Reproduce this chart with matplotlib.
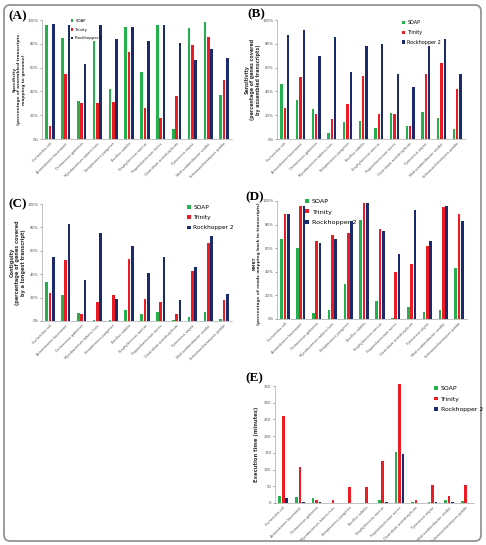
import matplotlib
matplotlib.use("Agg")
import matplotlib.pyplot as plt
import numpy as np
from matplotlib.patches import FancyBboxPatch

species = ["Escherichia coli", "Acinetobacter baumannii", "Deinococcus gobiensis",
           "Mycobacterium tuberculosis", "Streptococcus pyogenes", "Bacillus subtilis",
           "Staphylococcus aureus", "Propionibacterium acnes", "Clostridium acetobutylicum",
           "Pyrococcus abyssi", "Methanobrevibacter smithii", "Schizosaccharomyces pombe"]
methods = ["SOAP", "Trinity", "Rockhopper 2"]

spec_soap = [96, 85, 32, 82, 42, 94, 56, 96, 8, 93, 98, 37]
spec_trin = [11, 55, 30, 30, 31, 73, 26, 18, 36, 79, 86, 50]
spec_rock = [97, 96, 63, 96, 84, 94, 82, 96, 81, 66, 76, 68]

sens_soap = [46, 33, 25, 5, 14, 15, 9, 22, 11, 23, 18, 8]
sens_trin = [26, 52, 21, 17, 29, 53, 21, 21, 11, 55, 64, 42]
sens_rock = [87, 92, 70, 86, 56, 78, 80, 55, 44, 78, 84, 55]

cont_soap = [33, 22, 7, 1, 1, 9, 6, 8, 1, 3, 8, 2]
cont_trin = [24, 52, 6, 16, 22, 53, 19, 16, 6, 43, 67, 18]
cont_rock = [55, 83, 35, 75, 19, 64, 41, 55, 18, 46, 73, 23]

rmbt_soap = [68, 60, 5, 8, 30, 84, 15, 1, 10, 6, 8, 43]
rmbt_trin = [89, 96, 66, 71, 73, 98, 76, 40, 47, 62, 95, 89]
rmbt_rock = [89, 96, 64, 68, 83, 98, 75, 55, 92, 66, 96, 83]

time_soap = [22, 17, 16, 0, 0, 1, 8, 152, 2, 4, 10, 5]
time_trin = [260, 107, 10, 9, 48, 48, 125, 2369, 8, 55, 22, 55]
time_rock = [15, 4, 4, 0, 1, 1, 4, 146, 1, 4, 2, 1]

colors = ["#22B14C", "#ED1C24", "#1A2A6C"]

W, H = 486, 545
fig = plt.figure(figsize=(W / 100, H / 100), dpi=100)

def rect(l, t, r, b):
    return [l / W, 1 - b / H, (r - l) / W, (b - t) / H]

frame = FancyBboxPatch((4 / W, 4 / H), 477 / W, 536 / H,
                       boxstyle="round,pad=0,rounding_size=0.012",
                       transform=fig.transFigure, fill=False,
                       edgecolor="#8c8c8c", linewidth=1.2)
fig.patches.append(frame)

x = np.arange(len(species))

def panel(r, series, ylabel, ylfs, letter, letter_xy, ylim, yticks, pct, leg_xy, leg_fs,
          leg_space, yl_y=0.5):
    ax = fig.add_axes(rect(*r))
    offs = [-0.21, 0, 0.21]
    handles = []
    for vals, off, c, m in zip(series, offs, colors, methods):
        v = np.minimum(np.array(vals, dtype=float), ylim[1] * 1.02)
        h = ax.bar(x + off, v, width=0.16, color=c, label=m, clip_on=False)
        handles.append(h)
    ax.set_xlim(-0.5, 11.5)
    ax.set_ylim(*ylim)
    ax.set_yticks(yticks)
    if pct:
        ax.set_yticklabels([f"{t}%" for t in yticks])
    ax.set_xticks(x)
    ax.set_xticklabels(species, rotation=45, ha="right", rotation_mode="anchor",
                       fontsize=2.4, color="#555555")
    ax.tick_params(axis="y", labelsize=2.8, length=1.5, width=0.4, colors="#555555", pad=1)
    ax.tick_params(axis="x", length=0, pad=2)
    for s in ["top", "right"]:
        ax.spines[s].set_visible(False)
    for s in ["left", "bottom"]:
        ax.spines[s].set_color("#aaaaaa")
        ax.spines[s].set_linewidth(0.5)
    ax.set_ylabel(ylabel, fontsize=ylfs, fontweight="bold", color="#333333",
                  labelpad=3, linespacing=1.15)
    ax.yaxis.set_label_coords(-0.085 if ax.get_ylim()[1] <= 100 else -0.08, yl_y)
    fig.text(letter_xy[0] / W, 1 - letter_xy[1] / H, letter, fontsize=9.5,
             fontweight="bold", family="Liberation Serif", va="center", ha="left")
    fig.legend(handles, methods, loc="upper left",
               bbox_to_anchor=(leg_xy[0] / W, 1 - leg_xy[1] / H),
               fontsize=leg_fs, frameon=False, handlelength=0.6, handleheight=0.6,
               handletextpad=0.5, labelspacing=leg_space, borderpad=0,
               borderaxespad=0)
    return ax

pt = list(range(0, 101, 20))
panel((42, 20, 232, 139), [spec_soap, spec_trin, spec_rock],
      "Specificity\n(percentage of assembled transcripts\nmapping to genome)", 3.1,
      "(A)", (8, 16), (0, 100), pt, True, (71, 19), 2.8, 1.2)
panel((277, 20, 465, 139), [sens_soap, sens_trin, sens_rock],
      "Sensitivity\n(percentage of genes covered\nby assembled transcripts)", 3.4,
      "(B)", (247, 14), (0, 100), pt, True, (402, 20), 3.5, 1.0)
panel((42, 204, 232, 321), [cont_soap, cont_trin, cont_rock],
      "Contiguity\n(percentage of genes covered\nby a longest transcript)", 3.6,
      "(C)", (8, 204), (0, 100), pt, True, (187, 205), 4.2, 0.9)
panel((277, 201, 467, 319), [rmbt_soap, rmbt_trin, rmbt_rock],
      "RMBT\n(percentage of reads mapping back to transcripts)", 3.1,
      "(D)", (245, 197), (0, 100), pt, True, (305, 199), 4.6, 0.8, yl_y=0.47)
axE = panel((275, 386, 474, 503), [time_soap, time_trin, time_rock],
            "Execution time (minutes)", 3.8,
            "(E)", (245, 378), (0, 350), list(range(0, 351, 50)), False,
            (434, 386), 4.4, 0.9)
axE.annotate("2369\nminutes", xy=(7.1, 355), xytext=(7.85, 352),
             fontsize=3.2, color="#ED1C24", va="center", ha="left",
             arrowprops=dict(arrowstyle="-|>", color="#ED1C24", lw=0.5,
                             mutation_scale=3))

fig.savefig("out.png", dpi=100)
